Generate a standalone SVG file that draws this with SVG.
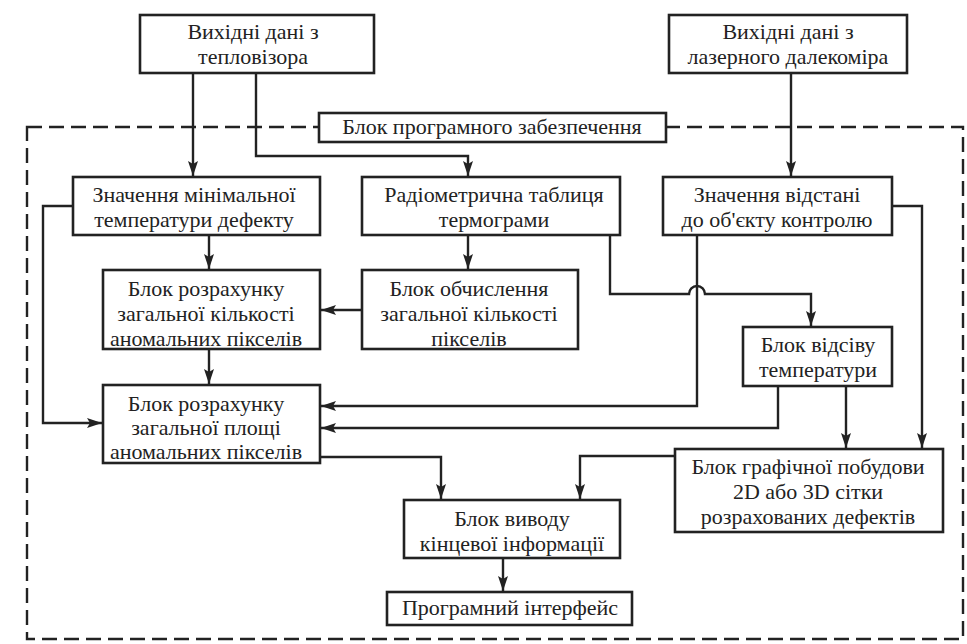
<svg xmlns="http://www.w3.org/2000/svg" width="967" height="644" viewBox="0 0 967 644">
<style>
.box{fill:#fff;stroke:#222;stroke-width:2.6}
.t{font-family:"Liberation Serif","Times New Roman",serif;font-size:22px;fill:#222;text-anchor:middle}
.c{fill:none;stroke:#222;stroke-width:2.4}
.dash{fill:none;stroke:#222;stroke-width:2.4;stroke-dasharray:15 7}
</style>
<defs>
<marker id="ah" markerUnits="userSpaceOnUse" markerWidth="16" markerHeight="10" refX="15" refY="5" orient="auto">
<path d="M0,0 L15,5 L0,10 L3,5 z" fill="#222"/>
</marker>
</defs>
<rect class="dash" x="27" y="127" width="936" height="512"/>
<g id="n_label"><rect class="box" x="319" y="113" width="347" height="29"/><text class="t" x="492" y="134">Блок програмного забезпечення</text></g>
<g id="connectors">
<path class="c" marker-end="url(#ah)" d="M193,73 V176"/>
<path class="c" marker-end="url(#ah)" d="M256,73 V156 H468 V176"/>
<path class="c" marker-end="url(#ah)" d="M791,73 V176"/>
<path class="c" marker-end="url(#ah)" d="M209,235 V269"/>
<path class="c" marker-end="url(#ah)" d="M468,235 V269"/>
<path class="c" marker-end="url(#ah)" d="M362,310 H321"/>
<path class="c" marker-end="url(#ah)" d="M73,206 H43 V423 H102"/>
<path class="c" marker-end="url(#ah)" d="M610,235 V294 H689 A8,8 0 0 1 705,294 H811 V326"/>
<path class="c" marker-end="url(#ah)" d="M697,235 V406 H321"/>
<path class="c" marker-end="url(#ah)" d="M778,386 V428 H321"/>
<path class="c" marker-end="url(#ah)" d="M846,386 V448"/>
<path class="c" marker-end="url(#ah)" d="M892,206 H922 V448"/>
<path class="c" marker-end="url(#ah)" d="M209,349 V384"/>
<path class="c" marker-end="url(#ah)" d="M320,457 H441 V499"/>
<path class="c" marker-end="url(#ah)" d="M675,456 H580 V499"/>
<path class="c" marker-end="url(#ah)" d="M503,558 V591"/>
</g>
<g id="n_thermo"><rect class="box" x="140" y="15" width="234" height="58"/><text class="t" x="253" y="39">Вихідні дані з</text><text class="t" x="253" y="64">тепловізора</text></g>
<g id="n_laser"><rect class="box" x="669" y="15" width="238" height="58"/><text class="t" x="788" y="39">Вихідні дані з</text><text class="t" x="788" y="64">лазерного далекоміра</text></g>
<g id="n_mintemp"><rect class="box" x="73" y="177" width="247" height="58"/><text class="t" x="194" y="202">Значення мінімальної</text><text class="t" x="194" y="227">температури дефекту</text></g>
<g id="n_radio"><rect class="box" x="362" y="177" width="258" height="58"/><text class="t" x="494" y="202">Радіометрична таблиця</text><text class="t" x="494" y="227">термограми</text></g>
<g id="n_dist"><rect class="box" x="663" y="177" width="229" height="58"/><text class="t" x="777" y="202">Значення відстані</text><text class="t" x="777" y="227">до об'єкту контролю</text></g>
<g id="n_anomcount"><rect class="box" x="103" y="270" width="217" height="79"/><text class="t" x="206" y="296">Блок розрахунку</text><text class="t" x="206" y="321">загальної кількості</text><text class="t" x="206" y="346">аномальних пікселів</text></g>
<g id="n_totalcount"><rect class="box" x="362" y="270" width="216" height="79"/><text class="t" x="469" y="296">Блок обчислення</text><text class="t" x="469" y="321">загальної кількості</text><text class="t" x="469" y="346">пікселів</text></g>
<g id="n_filter"><rect class="box" x="743" y="327" width="149" height="59"/><text class="t" x="818" y="352">Блок відсіву</text><text class="t" x="818" y="377">температури</text></g>
<g id="n_area"><rect class="box" x="103" y="385" width="217" height="78"/><text class="t" x="206" y="411">Блок розрахунку</text><text class="t" x="206" y="435">загальної площі</text><text class="t" x="206" y="459">аномальних пікселів</text></g>
<g id="n_graph"><rect class="box" x="675" y="449" width="268" height="83"/><text class="t" x="808" y="474">Блок графічної побудови</text><text class="t" x="808" y="499">2D або 3D сітки</text><text class="t" x="808" y="524">розрахованих дефектів</text></g>
<g id="n_output"><rect class="box" x="404" y="500" width="216" height="58"/><text class="t" x="512" y="526">Блок виводу</text><text class="t" x="512" y="551">кінцевої інформації</text></g>
<g id="n_ui"><rect class="box" x="387" y="592" width="245" height="33"/><text class="t" x="510" y="615">Програмний інтерфейс</text></g>
</svg>
